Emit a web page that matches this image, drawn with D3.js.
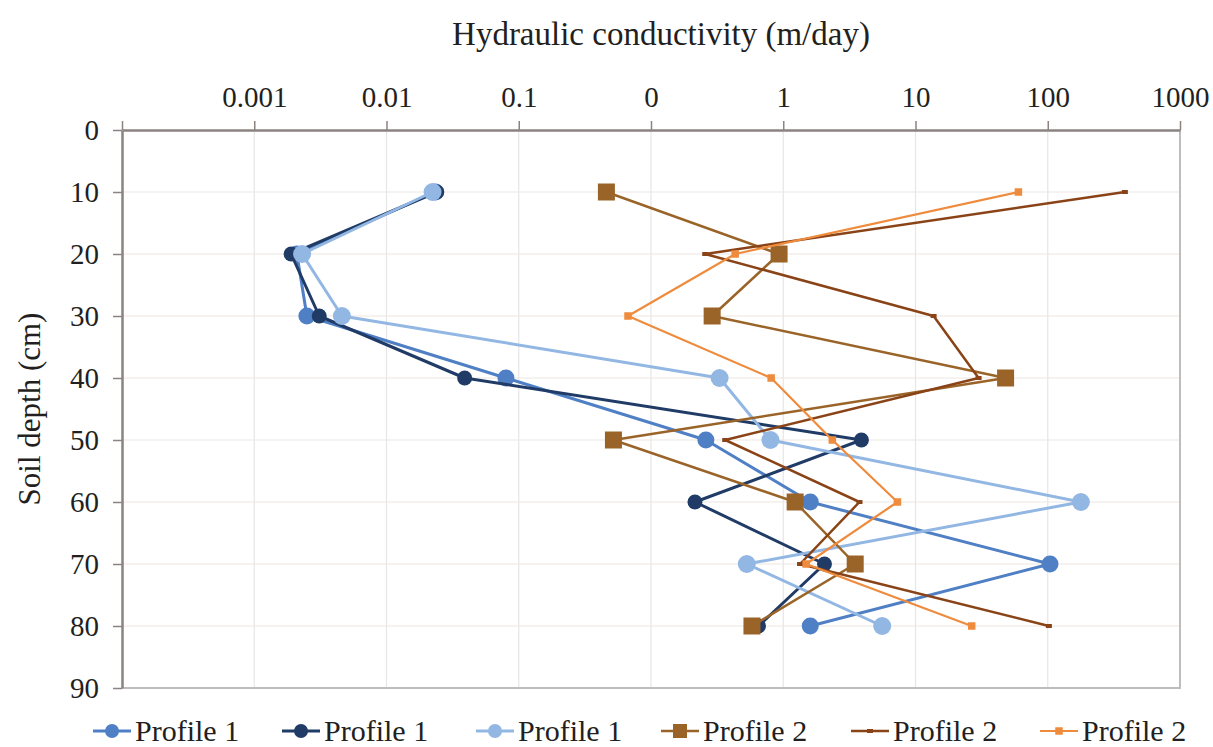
<!DOCTYPE html>
<html>
<head>
<meta charset="utf-8">
<script src="https://cdn.jsdelivr.net/npm/d3@7"></script>
<style>
  body { margin: 0; background: #fff; }
  svg text { font-family: "Liberation Serif", "Times New Roman", Times, Tinos, "DejaVu Serif", "Noto Serif", serif; fill: #231f20; }
</style>
</head>
<body>
<div id="plot"></div>
<script>
// depths (cm)
let depths = [10, 20, 30, 40, 50, 60, 70, 80];

// hydraulic conductivity, in the units of the plotted log axis
let p1a = [0.0235, 0.0021, 0.0025, 0.08, 2.6, 16, 1040, 16];
let p1b = [0.024, 0.0019, 0.0031, 0.039, 39, 2.15, 20.5, 6.5];
let p1c = [0.0223, 0.0023, 0.0046, 3.3, 8, 1780, 5.3, 56];
let p2a = [0.46, 9.3, 2.9, 480, 0.52, 12.3, 35, 5.8];
let p2b = [3830, 2.57, 137, 300, 3.64, 37.7, 13.4, 1020];
let p2c = [600, 4.33, 0.67, 8.1, 23.5, 73, 14.9, 266];

let xTicks = [1e-4, 1e-3, 1e-2, 1e-1, 1, 10, 100, 1000, 10000];
let xTickLabels = ['', '0.001', '0.01', '0.1', '0', '1', '10', '100', '1000'];
let yTicks = [0, 10, 20, 30, 40, 50, 60, 70, 80, 90];

let seriesNames = ['Profile 1', 'Profile 1', 'Profile 1', 'Profile 2', 'Profile 2', 'Profile 2'];
let seriesValues = [p1a, p1b, p1c, p2a, p2b, p2c];

let styles = [
    { color: '#4f7fc4', width: 3, marker: 'circle', size: 8.5 },
    { color: '#1f3b66', width: 3, marker: 'circle', size: 7.5 },
    { color: '#93b7e3', width: 3, marker: 'circle', size: 9 },
    { color: '#9a6429', width: 2.5, marker: 'square', size: 17 },
    { color: '#8a4317', width: 2.5, marker: 'dash', size: 6 },
    { color: '#ee8b3d', width: 2.2, marker: 'square', size: 7.5 }
];

let W = 1213, H = 747;
let plotLeft = 122, plotRight = 1180, plotTop = 130, plotBottom = 688;
let serif = '"Liberation Serif", "Times New Roman", Times, Tinos, "DejaVu Serif", "Noto Serif", serif';

let svg = d3.select('#plot')
    .append('svg')
        .attr('width', W)
        .attr('height', H);

let x = d3.scaleLog()
    .domain([1e-4, 1e4])
    .range([plotLeft, plotRight]);

let y = d3.scaleLinear()
    .domain([0, 90])
    .range([plotTop, plotBottom]);

// gridlines
svg.append('g')
    .selectAll('line')
    .data(xTicks.slice(1, -1))
    .enter()
    .append('line')
        .attr('x1', d => x(d)).attr('x2', d => x(d))
        .attr('y1', plotTop).attr('y2', plotBottom)
        .attr('stroke', '#e6e6e6')
        .attr('stroke-width', 1.2);

svg.append('g')
    .selectAll('line')
    .data(yTicks.slice(1, -1))
    .enter()
    .append('line')
        .attr('x1', plotLeft).attr('x2', plotRight)
        .attr('y1', d => y(d)).attr('y2', d => y(d))
        .attr('stroke', '#ebe6e2')
        .attr('stroke-width', 1.2);

// frame right / bottom
svg.append('path')
    .attr('d', 'M' + plotRight + ',' + plotTop + 'V' + plotBottom + 'H' + plotLeft)
    .attr('fill', 'none')
    .attr('stroke', '#bdbdbd')
    .attr('stroke-width', 2);

// top axis
let xAxis = d3.axisTop(x)
    .tickValues(xTicks)
    .tickFormat((d, i) => xTickLabels[i])
    .tickSize(9)
    .tickPadding(14)
    .tickSizeOuter(0);

let gx = svg.append('g')
    .attr('transform', 'translate(0,' + plotTop + ')')
    .call(xAxis);
gx.select('.domain').attr('stroke', '#8a8380').attr('stroke-width', 2.5);
gx.selectAll('.tick line').attr('stroke', '#8a8380').attr('stroke-width', 1.5);
gx.selectAll('.tick text')
    .style('font-family', serif)
    .style('font-size', '29px')
    .attr('fill', '#231f20');

// left axis
let yAxis = d3.axisLeft(y)
    .tickValues(yTicks)
    .tickSize(9)
    .tickPadding(14)
    .tickSizeOuter(0);

let gy = svg.append('g')
    .attr('transform', 'translate(' + plotLeft + ',0)')
    .call(yAxis);
gy.select('.domain').attr('stroke', '#8a8380').attr('stroke-width', 2.5);
gy.selectAll('.tick line').attr('stroke', '#8a8380').attr('stroke-width', 1.5);
gy.selectAll('.tick text')
    .style('font-family', serif)
    .style('font-size', '29px')
    .attr('fill', '#231f20');

// titles
svg.append('text')
    .attr('x', 661)
    .attr('y', 45)
    .style('text-anchor', 'middle')
    .style('font-family', serif)
    .style('font-size', '33px')
    .text('Hydraulic conductivity (m/day)');

svg.append('text')
    .attr('transform', 'translate(40,' + ((plotTop + plotBottom) / 2) + ') rotate(-90)')
    .style('text-anchor', 'middle')
    .style('font-family', serif)
    .style('font-size', '31px')
    .text('Soil depth (cm)');

// series
let dataReady = seriesValues.map(function(vals, i) {
    return {
        name: seriesNames[i],
        style: styles[i],
        values: vals.map(function(v, j) { return { depth: depths[j], value: v }; })
    };
});

let line = d3.line()
    .x(d => x(d.value))
    .y(d => y(d.depth));

function drawMarker(g, st, cx, cy) {
    if (st.marker === 'circle') {
        g.append('circle')
            .attr('cx', cx).attr('cy', cy)
            .attr('r', st.size)
            .attr('fill', st.color);
    } else if (st.marker === 'square') {
        g.append('rect')
            .attr('x', cx - st.size / 2).attr('y', cy - st.size / 2)
            .attr('width', st.size).attr('height', st.size)
            .attr('fill', st.color);
    } else {
        g.append('rect')
            .attr('x', cx - st.size / 2).attr('y', cy - 2)
            .attr('width', st.size).attr('height', 4)
            .attr('fill', st.color);
    }
}

dataReady.forEach(function(s) {
    let g = svg.append('g');
    g.append('path')
        .attr('d', line(s.values))
        .attr('fill', 'none')
        .attr('stroke', s.style.color)
        .attr('stroke-width', s.style.width)
        .attr('stroke-linejoin', 'round');
    s.values.forEach(function(d) {
        drawMarker(g, s.style, x(d.value), y(d.depth));
    });
});

// legend
let legendX = [93, 282, 476, 661, 851, 1040];
let legendY = 731;
dataReady.forEach(function(s, i) {
    let g = svg.append('g');
    let x0 = legendX[i];
    g.append('line')
        .attr('x1', x0).attr('x2', x0 + 38)
        .attr('y1', legendY).attr('y2', legendY)
        .attr('stroke', s.style.color)
        .attr('stroke-width', s.style.width);
    let st = Object.assign({}, s.style);
    if (st.marker === 'circle') st.size = 7;
    if (st.marker === 'square' && st.size > 10) st.size = 14;
    drawMarker(g, st, x0 + 19, legendY);
    g.append('text')
        .attr('x', x0 + 42)
        .attr('y', legendY + 10)
        .style('font-family', serif)
        .style('font-size', '30px')
        .text(s.name);
});
</script>
</body>
</html>
